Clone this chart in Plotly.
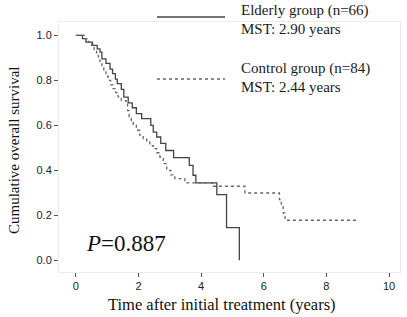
import plotly.graph_objects as go

# Elderly group (solid)
elderly_t = [0, 0.21, 0.32, 0.53, 0.68, 0.77, 0.83, 0.96, 1.09, 1.17, 1.26, 1.32, 1.45, 1.53,
             1.67, 1.80, 1.93, 2.10, 2.39, 2.47, 2.58, 2.71, 2.87, 3.12, 3.62, 3.74, 3.83,
             4.50, 4.81, 5.22]
elderly_s = [1.0, 0.985, 0.97, 0.955, 0.94, 0.925, 0.895, 0.875, 0.85, 0.83, 0.805, 0.785,
             0.76, 0.725, 0.70, 0.678, 0.652, 0.63, 0.60, 0.57, 0.548, 0.52, 0.488, 0.456,
             0.422, 0.378, 0.344, 0.292, 0.145, 0.0]

# Control group (dotted)
control_t = [0, 0.30, 0.40, 0.50, 0.58, 0.66, 0.72, 0.77, 0.83, 0.89, 0.96, 1.03, 1.11, 1.19,
             1.27, 1.35, 1.45, 1.60, 1.65, 1.70, 1.77, 1.83, 1.93, 2.04, 2.15, 2.26, 2.36,
             2.47, 2.58, 2.68, 2.79, 2.90, 3.03, 3.16, 3.48, 4.35, 5.40, 6.50, 6.56, 6.62,
             6.68, 9.0]
control_s = [1.0, 0.985, 0.97, 0.955, 0.93, 0.91, 0.89, 0.874, 0.855, 0.837, 0.818, 0.80,
             0.78, 0.763, 0.745, 0.726, 0.71, 0.696, 0.665, 0.637, 0.62, 0.60, 0.578, 0.556,
             0.54, 0.526, 0.51, 0.496, 0.478, 0.459, 0.43, 0.40, 0.38, 0.363, 0.344, 0.329,
             0.299, 0.27, 0.24, 0.21, 0.178, 0.178]

x_ticks = [0, 2, 4, 6, 8, 10]
y_ticks = [0.0, 0.2, 0.4, 0.6, 0.8, 1.0]
y_tick_labels = ["0.0", "0.2", "0.4", "0.6", "0.8", "1.0"]

legend_names = ["Elderly group (n=66)", "Control group (n=84)"]
legend_mst = ["MST: 2.90 years", "MST: 2.44 years"]
p_text = "<i>P</i>=0.887"
x_title = "Time after initial treatment (years)"
y_title = "Cumulative overall survival"

SERIF = "Liberation Serif, Times New Roman, serif"
SANS = "Liberation Sans, Arial, sans-serif"

W, H = 407, 317
L, R, T, B = 59, 7, 22, 45
pw, ph = W - L - R, H - T - B


def px(x):
    return (x - L) / pw


def py(y):
    return (H - B - y) / ph


fig = go.Figure()
fig.add_trace(go.Scatter(x=elderly_t, y=elderly_s, mode="lines", line_shape="hv",
                         line=dict(color="#444444", width=1.3), showlegend=False,
                         hoverinfo="skip"))
fig.add_trace(go.Scatter(x=control_t, y=control_s, mode="lines", line_shape="hv",
                         line=dict(color="#666666", width=1.3, dash="dot"), showlegend=False,
                         hoverinfo="skip"))

# custom legend
for i, (dash, ly, ty1, ty2) in enumerate([("solid", 17, 11, 29), ("dot", 79, 69, 87)]):
    fig.add_shape(type="line", xref="paper", yref="paper", x0=px(157), x1=px(225),
                  y0=py(ly), y1=py(ly),
                  line=dict(color="#444444" if i == 0 else "#666666", width=1.3, dash=dash))
    fig.add_annotation(xref="paper", yref="paper", x=px(239), y=py(ty1), xanchor="left",
                       yanchor="middle", text=legend_names[i], showarrow=False,
                       font=dict(family=SERIF, size=15, color="#1a1a1a"))
    fig.add_annotation(xref="paper", yref="paper", x=px(239), y=py(ty2), xanchor="left",
                       yanchor="middle", text=legend_mst[i], showarrow=False,
                       font=dict(family=SERIF, size=15, color="#1a1a1a"))

fig.add_annotation(xref="paper", yref="paper", x=px(84), y=py(243), xanchor="left",
                   yanchor="middle", text=p_text, showarrow=False,
                   font=dict(family=SERIF, size=23, color="#111"))
fig.add_annotation(xref="paper", yref="paper", x=px(222), y=py(304), xanchor="center",
                   yanchor="middle", text=x_title, showarrow=False,
                   font=dict(family=SERIF, size=16.5, color="#111"))
fig.add_annotation(xref="paper", yref="paper", x=px(14), y=py(151), xanchor="center",
                   yanchor="middle", text=y_title, showarrow=False, textangle=-90,
                   font=dict(family=SERIF, size=15, color="#111"))

fig.update_xaxes(range=[-0.54, 10.35], tickvals=x_ticks, ticks="outside", ticklen=4,
                 tickcolor="#555", showgrid=False, zeroline=False, showline=True,
                 linecolor="#ececec", linewidth=1, mirror=True,
                 tickfont=dict(family=SANS, size=11, color="#222"))
fig.update_yaxes(range=[-0.052, 1.059], tickvals=y_ticks, ticktext=y_tick_labels,
                 ticks="outside", ticklen=4, tickcolor="#555", showgrid=False,
                 zeroline=False, showline=True, linecolor="#ececec", linewidth=1, mirror=True,
                 tickfont=dict(family=SANS, size=11, color="#222"))

fig.update_layout(width=W, height=H, margin=dict(l=L, r=R, t=T, b=B),
                  paper_bgcolor="white", plot_bgcolor="white", hovermode=False)

fig.write_html("out.html", config={"displayModeBar": False},
               post_script="document.body.style.margin='0';document.body.style.overflow='hidden';")
